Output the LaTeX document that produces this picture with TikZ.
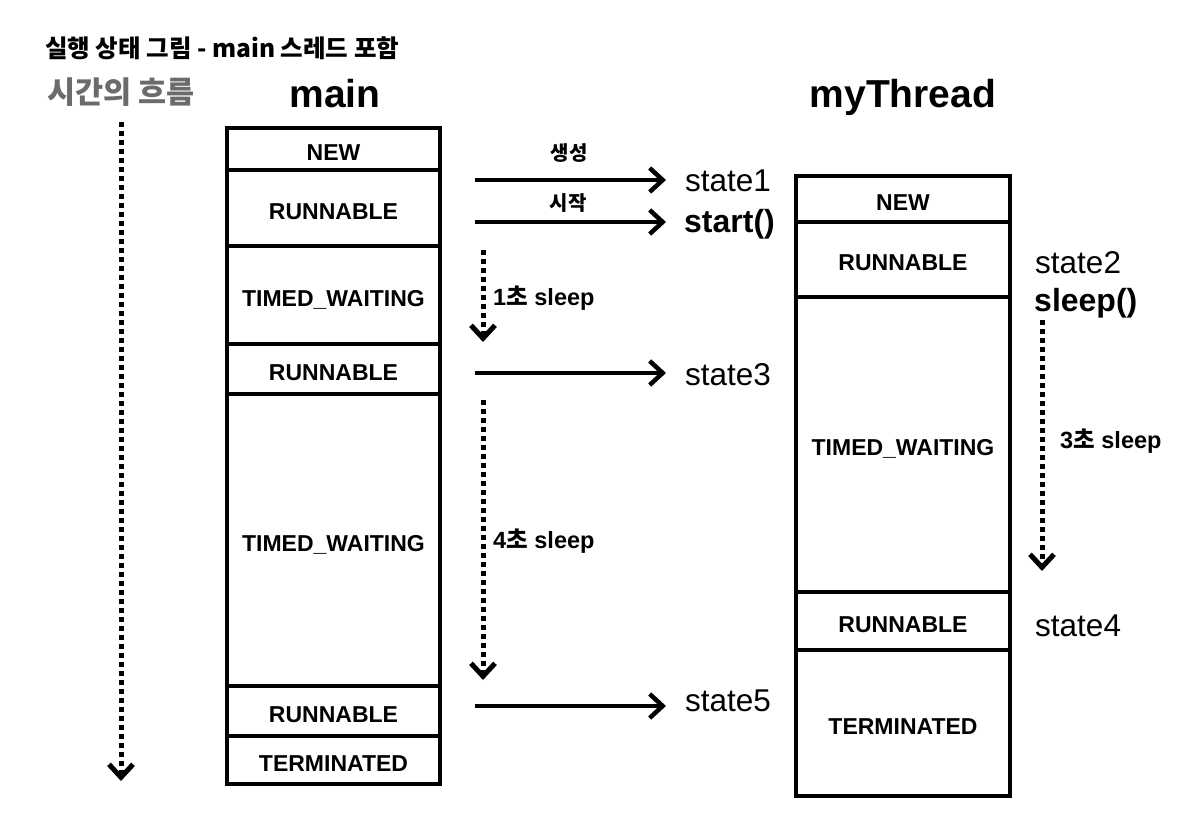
\documentclass[tikz,border=0pt]{standalone}
\usepackage{fontspec}
\setmainfont{Liberation Sans}
\newfontfamily\kr{Noto Sans CJK KR}
\usetikzlibrary{arrows.meta}
\begin{document}
\begin{tikzpicture}[x=1pt,y=-1pt,
 box/.style={draw,line width=4pt,inner sep=0pt,text height=22pt,text depth=0pt,font=\fontsize{23}{23}\selectfont\bfseries},
 mbox/.style={box,minimum width=213pt},
 tbox/.style={box,minimum width=214pt},
 arr/.style={line width=4.5pt,-{Straight Barb[length=13pt,width=24pt]}},
 dots/.style={line width=5pt,dash pattern=on 4.5pt off 4.5pt,-{Straight Barb[length=13pt,width=24pt]}},
 st/.style={anchor=base west,inner sep=0pt,font=\fontsize{31.5}{31.5}\selectfont},
 stb/.style={anchor=base west,inner sep=0pt,font=\fontsize{32}{32}\selectfont\bfseries},
 lbl/.style={anchor=west,inner sep=0pt,font=\fontsize{23.5}{23.5}\selectfont\bfseries},
 krl/.style={inner sep=0pt,font=\fontsize{20}{20}\selectfont\kr\bfseries},
 head/.style={anchor=base,inner sep=0pt,font=\fontsize{39}{39}\selectfont\bfseries}
]
\useasboundingbox (0,0) rectangle (1184,814);

% titles
\node[anchor=base west,inner sep=0pt,font=\fontsize{24.5}{24.5}\selectfont\kr\bfseries] (title) at (45,57) {실행 상태 그림 - main 스레드 포함};
\node[anchor=base west,inner sep=0pt,text=black!58,font=\fontsize{30.5}{30.5}\selectfont\kr\bfseries] (time) at (47,103) {시간의 흐름};
\node[head] (hmain) at (335,107) {main};
\node[head] (hthr) at (903,107) {myThread};

% main column
\node[mbox,minimum height=42pt] (m1) at (333.5,149) {NEW};
\node[mbox,minimum height=76pt] (m2) at (333.5,208) {RUNNABLE};
\node[mbox,minimum height=98pt] (m3) at (333.5,295) {TIMED\_WAITING};
\node[mbox,minimum height=50pt] (m4) at (333.5,369) {RUNNABLE};
\node[mbox,minimum height=292pt] (m5) at (333.5,540) {TIMED\_WAITING};
\node[mbox,minimum height=50pt] (m6) at (333.5,711) {RUNNABLE};
\node[mbox,minimum height=48pt] (m7) at (333.5,760) {TERMINATED};

% myThread column
\node[tbox,minimum height=46pt] (t1) at (903,199) {NEW};
\node[tbox,minimum height=75pt] (t2) at (903,259.5) {RUNNABLE};
\node[tbox,minimum height=295pt] (t3) at (903,444.5) {TIMED\_WAITING};
\node[tbox,minimum height=58pt] (t4) at (903,621) {RUNNABLE};
\node[tbox,minimum height=146pt] (t5) at (903,723) {TERMINATED};

% state labels
\node[st] (s1) at (685,191) {state1};
\node[stb] (s1b) at (684,232) {start()};
\node[st] (s3) at (685,385) {state3};
\node[st] (s5) at (685,711) {state5};
\node[st] (s2) at (1035,273) {state2};
\node[stb] (s2b) at (1034,311) {sleep()};
\node[st] (s4) at (1035,636) {state4};

% horizontal arrows
\coordinate (a1s) at (475,180); \coordinate (a1e) at (666,180);
\coordinate (a2s) at (475,222); \coordinate (a2e) at (666,222);
\coordinate (a3s) at (475,373); \coordinate (a3e) at (666,373);
\coordinate (a5s) at (475,706); \coordinate (a5e) at (666,706);
\draw[arr] (a1s) -- (a1e);
\draw[arr] (a2s) -- (a2e);
\draw[arr] (a3s) -- (a3e);
\draw[arr] (a5s) -- (a5e);
\node[krl] (l1) at (569,153) {생성};
\node[krl] (l2) at (568,203) {시작};

% dotted arrows
\coordinate (ts) at (121,122); \coordinate (te) at (121,781);
\coordinate (d1s) at (483,250); \coordinate (d1e) at (483,342);
\coordinate (d2s) at (483,400); \coordinate (d2e) at (483,680);
\coordinate (d3s) at (1042,320); \coordinate (d3e) at (1042,571);
\draw[dots] (ts) -- (te);
\draw[dots] (d1s) -- (d1e);
\draw[dots] (d2s) -- (d2e);
\draw[dots] (d3s) -- (d3e);
\node[lbl] (z1) at (493,298) {1{\kr 초} sleep};
\node[lbl] (z2) at (493,541) {4{\kr 초} sleep};
\node[lbl] (z3) at (1060,441) {3{\kr 초} sleep};
\end{tikzpicture}
\end{document}
